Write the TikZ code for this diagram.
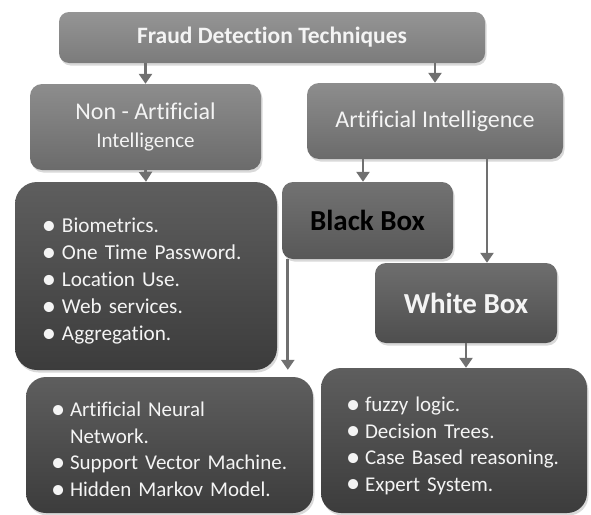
\documentclass[tikz,border=0pt]{standalone}
\usepackage{fontspec}
\setmainfont[Ligatures=NoCommon]{Carlito}
\usetikzlibrary{arrows.meta,shadows}
\definecolor{arrowgray}{HTML}{707070}
\definecolor{topT}{HTML}{959595}
\definecolor{topB}{HTML}{7B7B7B}
\definecolor{midT}{HTML}{8D8D8D}
\definecolor{midB}{HTML}{6B6B6B}
\definecolor{listT}{HTML}{5E5E5E}
\definecolor{listB}{HTML}{3C3C3C}
\definecolor{bbT}{HTML}{727272}
\definecolor{bbB}{HTML}{585858}
\definecolor{wbT}{HTML}{6E6E6E}
\definecolor{wbB}{HTML}{4E4E4E}
\definecolor{txtw}{HTML}{F4F4F4}
\newcommand\itm[1]{\makebox[#1][l]{\raisebox{-1.8pt}{\scalebox{1.35}{\textbullet}}}}
\newcommand\topstrut{\rule{0pt}{25pt}}
\begin{document}
\begin{tikzpicture}[x=1pt,y=-1pt,
  box/.style={rounded corners=#1, draw=none, inner sep=0pt, text=txtw,
    drop shadow={opacity=0.3,shadow xshift=1.5pt,shadow yshift=-2.5pt}},
  topshade/.style={top color=topT, bottom color=topB},
  midshade/.style={top color=midT, bottom color=midB},
  listshade/.style={top color=listT, bottom color=listB},
  arr/.style={draw=arrowgray, line width=2.7pt, -{Triangle[width=13pt,length=10pt]}},
  listfont/.style={font=\fontsize{21.2}{27}\selectfont},
  blistfont/.style={font=\fontsize{21}{26.5}\selectfont}
]
\useasboundingbox (0,0) rectangle (591,514);

% boxes
\node[box=10pt, topshade, minimum width=426pt, minimum height=51pt,
      font=\bfseries\fontsize{23.5}{28}\selectfont] (top) at (272,37.5) {Fraud Detection Techniques};

\node[box=12pt, midshade, minimum width=231pt, minimum height=86pt, align=center,
      font=\fontsize{21}{28}\selectfont] (nonai) at (145.5,127)
      {{\fontsize{24}{28}\selectfont Non - Artificial}\\Intelligence};

\node[box=12pt, midshade, minimum width=256pt, minimum height=76pt,
      font=\fontsize{24}{28}\selectfont] (ai) at (435,121) {Artificial Intelligence};

\node[box=22pt, listshade, minimum width=262pt, minimum height=188pt,
      text width=262pt, align=left, listfont] (nl) at (146,276)
      {\topstrut\hspace*{27pt}\itm{20pt}Biometrics.\\
       \hspace*{27pt}\itm{20pt}One Time Password.\\
       \hspace*{27pt}\itm{20pt}Location Use.\\
       \hspace*{27pt}\itm{20pt}Web services.\\
       \hspace*{27pt}\itm{20pt}Aggregation.};

\node[box=11pt, top color=bbT, bottom color=bbB, minimum width=171pt, minimum height=77pt,
      text=black, font=\bfseries\fontsize{29}{33}\selectfont] (bb) at (367.5,220.5) {Black Box};

\node[box=11pt, top color=wbT, bottom color=wbB, minimum width=182pt, minimum height=80pt,
      font=\bfseries\fontsize{29}{33}\selectfont] (wb) at (466,303) {White Box};

\node[box=20pt, listshade, minimum width=287pt, minimum height=136pt,
      text width=287pt, align=left, blistfont] (bl) at (169.5,445)
      {\topstrut\hspace*{25pt}\itm{19pt}Artificial Neural\\
       \hspace*{44pt}Network.\\
       \hspace*{25pt}\itm{19pt}Support Vector Machine.\\
       \hspace*{25pt}\itm{19pt}Hidden Markov Model.};

\node[box=20pt, listshade, minimum width=266pt, minimum height=145pt,
      text width=266pt, align=left, blistfont] (br) at (454,440.5)
      {\topstrut\hspace*{25pt}\itm{19pt}fuzzy logic.\\
       \hspace*{25pt}\itm{19pt}Decision Trees.\\
       \hspace*{25pt}\itm{19pt}Case Based reasoning.\\
       \hspace*{25pt}\itm{19pt}Expert System.};

% connectors
\draw[arr] (nonai.north |- top.south) -- (nonai.north);
\draw[arr] (ai.north |- top.south) -- (ai.north);
\draw[arr] (nonai.south) -- (nl.north);
\coordinate (c4) at ([xshift=-4.5pt]bb.north);
\draw[arr] (c4 |- ai.south) -- (c4);
\coordinate (c5) at ([xshift=21pt]wb.north);
\draw[arr] (c5 |- ai.south) -- (c5);
\coordinate (c6) at ([xshift=6pt]bb.south west);
\draw[arr, shorten >=7pt] (c6) -- (c6 |- bl.north);
\draw[arr] (wb.south) -- (wb.south |- br.north);
\end{tikzpicture}
\end{document}
